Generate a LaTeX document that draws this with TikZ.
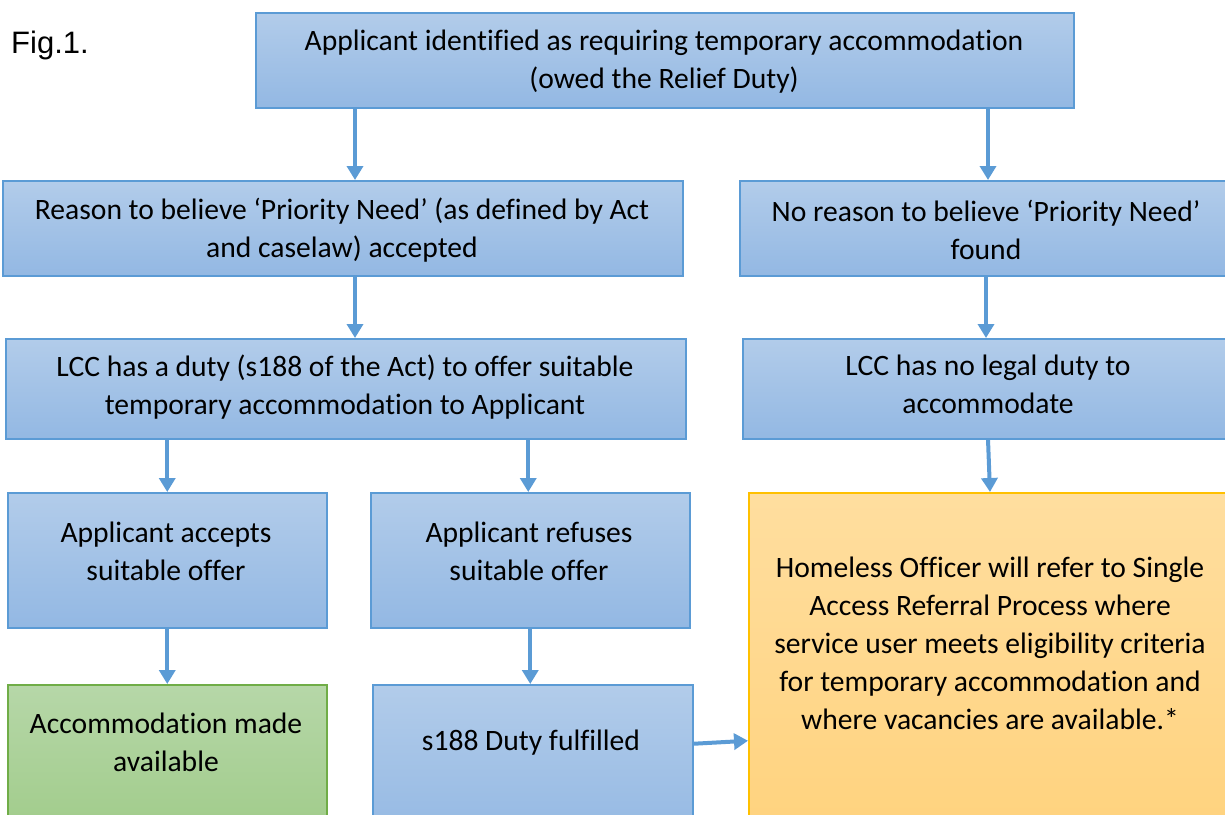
\documentclass[tikz,border=0pt]{standalone}
\usepackage{fontspec}
\setmainfont{Carlito}[Ligatures=NoCommon]
\newfontfamily\figfont{Liberation Sans}
\usetikzlibrary{arrows.meta}

\definecolor{blueTop}{HTML}{B2CCEA}
\definecolor{blueBot}{HTML}{93B8E3}
\definecolor{blueEdge}{HTML}{5B9BD5}
\definecolor{greenTop}{HTML}{B6D7A8}
\definecolor{greenBot}{HTML}{9FCB88}
\definecolor{greenEdge}{HTML}{70AD47}
\definecolor{orangeTop}{HTML}{FFDE9F}
\definecolor{orangeBot}{HTML}{FFD27C}
\definecolor{orangeEdge}{HTML}{FFC000}
\definecolor{arrowBlue}{HTML}{5B9BD5}

\tikzset{
  box/.style={rectangle, anchor=north west, inner sep=0pt, line width=1.5pt},
  bluebox/.style={box, draw=blueEdge, top color=blueTop, bottom color=blueBot},
  greenbox/.style={box, draw=greenEdge, top color=greenTop, bottom color=greenBot},
  orangebox/.style={box, draw=orangeEdge, top color=orangeTop, bottom color=orangeBot},
  txt/.style={align=center, inner sep=0pt, font=\fontsize{29.6}{38}\selectfont},
  arr/.style={draw=arrowBlue, line width=4pt, -{Triangle[length=14pt,width=16pt]}}
}

\begin{document}
\begin{tikzpicture}[x=1pt,y=-1pt]
\useasboundingbox (0,0) rectangle (1225,814);
\clip (0,0) rectangle (1225,814);

% caption
\node[anchor=west, inner sep=0pt, font=\figfont\fontsize{31}{36}\selectfont] (fig) at (11,45) {Fig.1.};

% boxes
\node[bluebox, minimum width=818pt, minimum height=95pt] (top) at (255,12) {};
\node[bluebox, minimum width=680pt, minimum height=95pt] (pn) at (2,180) {};
\node[bluebox, minimum width=520pt, minimum height=95pt] (npn) at (739,180) {};
\node[bluebox, minimum width=680pt, minimum height=100pt] (duty) at (5,338) {};
\node[bluebox, minimum width=520pt, minimum height=100pt] (noduty) at (742,338) {};
\node[bluebox, minimum width=319pt, minimum height=135pt] (acc) at (7,492) {};
\node[bluebox, minimum width=319pt, minimum height=135pt] (ref) at (370,492) {};
\node[orangebox, minimum width=520pt, minimum height=360pt] (sarp) at (748,492) {};
\node[greenbox, minimum width=319pt, minimum height=160pt] (made) at (7,684) {};
\node[bluebox, minimum width=320pt, minimum height=160pt] (done) at (372,684) {};

% texts
\node[txt] (ttop) at (664,62) {Applicant identified as requiring temporary accommodation\\(owed the Relief Duty)};
\node[txt] (tpn) at (342,230) {Reason to believe ‘Priority Need’ (as defined by Act\\and caselaw) accepted};
\node[txt] (tnpn) at (986,230) {No reason to believe ‘Priority Need’\\found};
\node[txt] (tduty) at (345,387) {LCC has a duty (s188 of the Act) to offer suitable\\temporary accommodation to Applicant};
\node[txt] (tnoduty) at (988,384) {LCC has no legal duty to\\accommodate};
\node[txt] (tacc) at (166,551) {Applicant accepts\\suitable offer};
\node[txt] (tref) at (529,551) {Applicant refuses\\suitable offer};
\node[txt] (tsarp) at (990,643) {Homeless Officer will refer to Single\\Access Referral Process where\\service user meets eligibility criteria\\for temporary accommodation and\\where vacancies are available.*};
\node[txt] (tmade) at (166,742) {Accommodation made\\available};
\node[txt] (tdone) at (531,743) {s188 Duty fulfilled};

% connectors
\draw[arr] ([xshift=100pt]top.south west) coordinate (a1) -- (a1 |- pn.north);
\draw[arr] ([xshift=733pt]top.south west) coordinate (a2) -- (a2 |- npn.north);
\draw[arr] ([xshift=353pt]pn.south west) coordinate (a3) -- (a3 |- duty.north);
\draw[arr] ([xshift=247pt]npn.south west) coordinate (a4) -- (a4 |- noduty.north);
\draw[arr] (acc.north |- duty.south) -- (acc.north);
\draw[arr] ([xshift=-2pt]ref.north |- duty.south) coordinate (a6) -- (a6 |- ref.north);
\draw[arr] ([xshift=246pt]noduty.south west) -- ([xshift=242pt]sarp.north west);
\draw[arr] (acc.south) -- (acc.south |- made.north);
\draw[arr] (ref.south) -- (ref.south |- done.north);
\draw[arr] ([yshift=21pt]done.east) -- ([yshift=-68pt]sarp.west);
\end{tikzpicture}
\end{document}
